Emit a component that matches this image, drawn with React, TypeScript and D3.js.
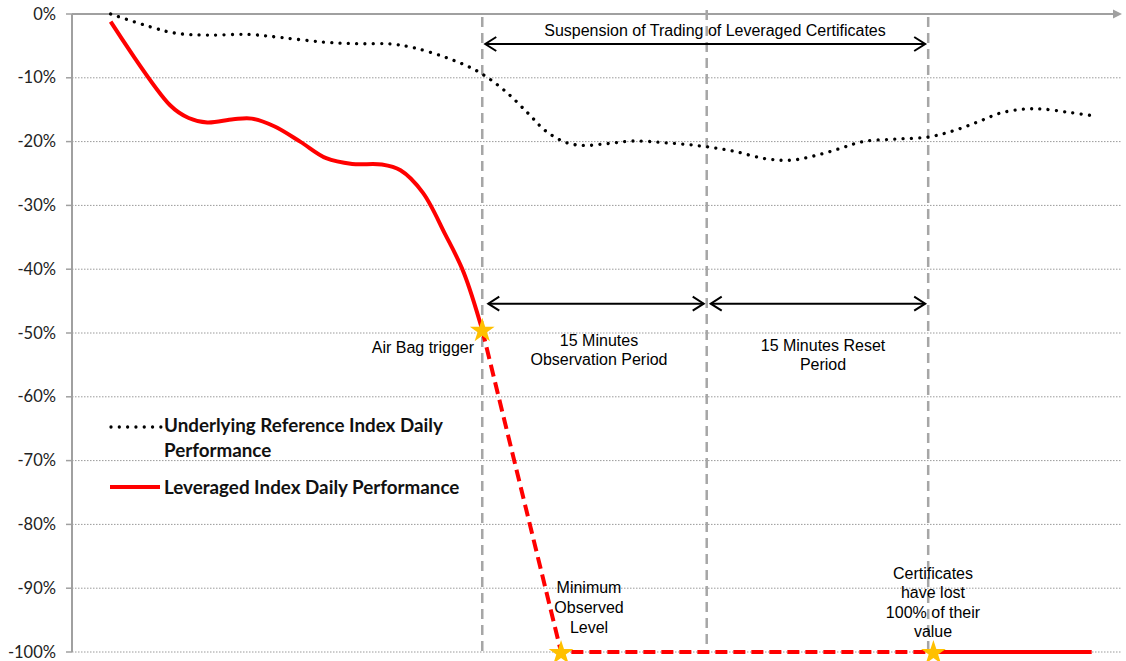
import React from 'react';
import * as d3 from 'd3';

// y axis ticks (percent)
const yTicks = [0, -10, -20, -30, -40, -50, -60, -70, -80, -90, -100];

// underlying reference index, time in 30s steps
const underlyingTime = [0, 5.3, 8.7, 13, 18.5, 23, 28.6, 33.2, 37.7, 40.8, 45.3, 49.4, 53, 56.2, 58.5, 61.4, 63.8, 66.9, 70.4, 74.8, 79.5, 83.8, 88.2, 91.7, 94.8, 98.1, 101.2, 105.6, 109.9, 113.4, 116.7, 119.8, 123, 125.4, 128.8, 131.9];
const underlyingValue = [0, -2.0, -3.0, -3.3, -3.2, -3.7, -4.4, -4.65, -4.7, -5.3, -6.9, -9.0, -12.0, -15.6, -18.3, -20.2, -20.6, -20.3, -19.9, -20.2, -20.7, -21.5, -22.7, -22.9, -22.2, -21.1, -20.0, -19.6, -19.3, -18.3, -16.9, -15.5, -14.9, -14.9, -15.4, -15.9];

// leveraged index before the trigger
const leveragedTime = [0, 8, 10.5, 13, 16.5, 19, 22, 25.5, 29, 32.5, 36.5, 39, 42, 45, 47.5, 50];
const leveragedValue = [-1.2, -14.3, -16.3, -17.0, -16.5, -16.4, -17.6, -20.0, -22.6, -23.5, -23.6, -24.5, -28.0, -34.5, -40.5, -49.5];

// after trigger (dashed) and after reset (solid)
const collapseTime = [50, 60.6, 110.7];
const collapseValue = [-49.5, -100, -100];
const lostTime = [110.7, 132];
const lostValue = [-100, -100];

const eventTimes = [50, 80.2, 110];
const starTime = [50, 60.6, 110.7];
const starValue = [-49.5, -100, -100];

const W = 1126, H = 661;
const x = d3.scaleLinear().domain([-5.2, 135]).range([72, 1114]);
const y = d3.scaleLinear().domain([-100, 0]).range([652, 14]);

const lineOf = (ts: number[], vs: number[], curve: any) =>
  d3.line<number>().x((d, i) => x(ts[i])).y((d, i) => y(vs[i])).curve(curve)(vs) || '';

const sansFont = '"Liberation Sans", Arial, sans-serif';
const boldFont = 'Lato, "Liberation Sans", sans-serif';

const Arrow = ({ x1, x2, yy }: { x1: number; x2: number; yy: number }) => (
  <g stroke="#000" strokeWidth={2} fill="none">
    <line x1={x1} x2={x2} y1={yy} y2={yy} />
    <path d={`M${x1 + 11},${yy - 7}L${x1},${yy}L${x1 + 11},${yy + 7}`} />
    <path d={`M${x2 - 11},${yy - 7}L${x2},${yy}L${x2 - 11},${yy + 7}`} />
  </g>
);

const Label = ({ cx, y0, lines, gap = 19.5, anchor = 'middle' }: { cx: number; y0: number; lines: string[]; gap?: number; anchor?: string }) => (
  <text x={cx} y={y0} fontFamily={sansFont} fontSize={16} fill="#000" textAnchor={anchor}>
    {lines.map((l, i) => (
      <tspan key={i} x={cx} dy={i === 0 ? 0 : gap}>{l}</tspan>
    ))}
  </text>
);

export default function App() {
  const star = d3.symbol().type(d3.symbolStar).size(190)() || '';
  return (
    <svg width={W} height={H} style={{ position: 'absolute', left: 0, top: 0, background: '#fff' }}>
      {/* gridlines */}
      {yTicks.filter(t => t !== 0).map(t => (
        <line key={t} x1={72} x2={1122} y1={y(t)} y2={y(t)} stroke="#9a9a9a" strokeWidth={1} strokeDasharray="1.5,1.5" />
      ))}
      {/* y axis */}
      <line x1={72} x2={72} y1={14} y2={652} stroke="#a0a0a0" strokeWidth={2} />
      {yTicks.map(t => (
        <g key={t}>
          <line x1={66} x2={72} y1={y(t)} y2={y(t)} stroke="#a0a0a0" strokeWidth={1.5} />
          <text x={56} y={y(t) + 5.5} textAnchor="end" fontFamily={boldFont} fontSize={16.5} fill="#222">{t}%</text>
        </g>
      ))}
      {/* top x axis with arrow */}
      <line x1={72} x2={1114} y1={14} y2={14} stroke="#a0a0a0" strokeWidth={2} />
      <path d="M1113,9.5L1122,14L1113,18.5Z" fill="#a0a0a0" />

      {/* event verticals */}
      {eventTimes.map((t, i) => (
        <line key={t} x1={x(t)} x2={x(t)} y1={i === 1 ? 10 : 17} y2={652} stroke="#a6a6a6" strokeWidth={2.5} strokeDasharray="10,6" />
      ))}

      {/* series */}
      <path d={lineOf(underlyingTime, underlyingValue, d3.curveCatmullRom)} fill="none" stroke="#000" strokeWidth={3.3} strokeLinecap="round" strokeDasharray="0.01,8.3" />
      <path d={lineOf(leveragedTime, leveragedValue, d3.curveCatmullRom)} fill="none" stroke="#ff0000" strokeWidth={4} />
      <path d={lineOf(collapseTime, collapseValue, d3.curveLinear)} fill="none" stroke="#ff0000" strokeWidth={4} strokeDasharray="12,6" />
      <path d={lineOf(lostTime, lostValue, d3.curveLinear)} fill="none" stroke="#ff0000" strokeWidth={4} />

      {/* arrows */}
      <Arrow x1={x(50) + 3} x2={x(110) - 3} yy={y(-4.7)} />
      <Arrow x1={x(50) + 6} x2={x(80.2) - 3} yy={y(-45.4)} />
      <Arrow x1={x(80.2) + 4} x2={x(110) - 3} yy={y(-45.4)} />

      {/* stars */}
      {starTime.map((t, i) => (
        <path key={i} d={star} transform={`translate(${x(t)},${y(starValue[i]) + 1})`} fill="#ffc000" />
      ))}

      {/* annotations */}
      <Label cx={715} y0={36} lines={['Suspension of  Trading of Leveraged Certificates']} />
      <Label cx={474} y0={353} lines={['Air Bag trigger']} anchor="end" />
      <Label cx={599} y0={346} lines={['15 Minutes', 'Observation Period']} gap={18.5} />
      <Label cx={823} y0={351} lines={['15  Minutes Reset', 'Period']} gap={18.5} />
      <Label cx={589} y0={593} lines={['Minimum', 'Observed', 'Level']} gap={20} />
      <Label cx={933} y0={579} lines={['Certificates', 'have lost', '100% of their', 'value']} gap={19.3} />

      {/* legend */}
      <line x1={111} x2={163} y1={427} y2={427} stroke="#000" strokeWidth={3.3} strokeLinecap="round" strokeDasharray="0.01,8.3" />
      <text fontFamily={boldFont} fontWeight="bold" fontSize={18.8} fill="#111">
        <tspan x={164} y={432}>Underlying Reference Index Daily</tspan>
        <tspan x={164} y={457}>Performance</tspan>
      </text>
      <line x1={110} x2={160} y1={487} y2={487} stroke="#ff0000" strokeWidth={4} />
      <text x={164} y={494} fontFamily={boldFont} fontWeight="bold" fontSize={18.8} fill="#111">Leveraged Index Daily Performance</text>
    </svg>
  );
}
